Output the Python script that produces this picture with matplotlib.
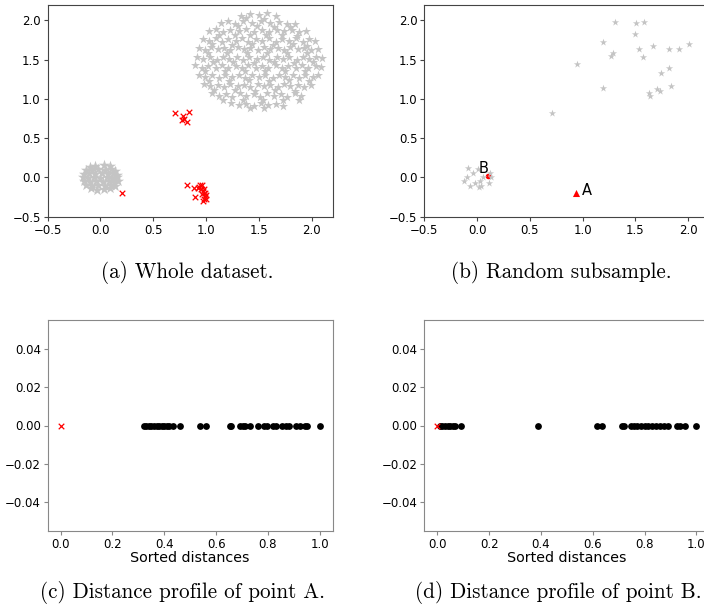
import matplotlib
matplotlib.use("Agg")
from matplotlib import pyplot as plt

# ---- data ----
# big cloud of normal points, panel (a)
big_cloud = [
    (1.33, 2.06), (1.42, 2.08), (1.50, 2.07), (1.58, 2.09), (1.66, 2.05), (1.38, 2.03), (1.55, 2.02),
    (1.14, 1.97), (1.21, 1.99), (1.27, 1.96), (1.35, 1.99), (1.44, 1.97), (1.52, 1.99), (1.61, 1.97),
    (1.69, 1.98), (1.77, 1.95), (1.84, 1.96), (1.30, 1.93), (1.48, 1.93), (1.64, 1.92), (1.80, 1.91),
    (1.03, 1.86), (1.09, 1.89), (1.16, 1.85), (1.23, 1.88), (1.31, 1.86), (1.38, 1.89), (1.45, 1.85),
    (1.53, 1.88), (1.60, 1.85), (1.67, 1.88), (1.74, 1.86), (1.81, 1.88), (1.88, 1.85), (1.95, 1.87),
    (1.12, 1.82), (1.27, 1.82), (1.42, 1.81), (1.57, 1.82), (1.72, 1.81), (1.86, 1.80),
    (0.97, 1.76), (1.03, 1.74), (1.09, 1.77), (1.15, 1.73), (1.21, 1.76), (1.28, 1.74), (1.34, 1.77),
    (1.40, 1.73), (1.47, 1.76), (1.53, 1.74), (1.60, 1.77), (1.66, 1.73), (1.72, 1.76), (1.79, 1.74),
    (1.85, 1.77), (1.92, 1.73), (1.98, 1.76), (2.03, 1.74), (1.06, 1.70), (1.25, 1.69), (1.44, 1.70),
    (1.63, 1.69), (1.82, 1.70), (1.96, 1.68),
    (0.93, 1.65), (0.99, 1.62), (1.05, 1.66), (1.11, 1.63), (1.17, 1.65), (1.23, 1.62), (1.30, 1.66),
    (1.36, 1.63), (1.42, 1.65), (1.49, 1.62), (1.55, 1.66), (1.61, 1.63), (1.68, 1.65), (1.74, 1.62),
    (1.80, 1.66), (1.87, 1.63), (1.93, 1.65), (1.99, 1.62), (2.06, 1.64), (1.02, 1.58), (1.20, 1.58),
    (1.39, 1.59), (1.58, 1.58), (1.77, 1.59), (1.96, 1.58),
    (0.91, 1.54), (0.97, 1.51), (1.04, 1.53), (1.10, 1.50), (1.16, 1.54), (1.22, 1.51), (1.29, 1.53),
    (1.35, 1.50), (1.41, 1.54), (1.48, 1.51), (1.54, 1.53), (1.60, 1.50), (1.67, 1.54), (1.73, 1.51),
    (1.79, 1.53), (1.86, 1.50), (1.92, 1.54), (1.98, 1.51), (2.04, 1.53), (2.10, 1.52), (1.07, 1.47),
    (1.26, 1.47), (1.45, 1.46), (1.64, 1.47), (1.83, 1.46), (2.01, 1.47),
    (0.90, 1.43), (0.96, 1.40), (1.02, 1.42), (1.09, 1.39), (1.15, 1.43), (1.21, 1.40), (1.28, 1.42),
    (1.34, 1.39), (1.40, 1.43), (1.47, 1.40), (1.53, 1.42), (1.59, 1.39), (1.66, 1.43), (1.72, 1.40),
    (1.78, 1.42), (1.85, 1.39), (1.91, 1.43), (1.97, 1.40), (2.04, 1.42), (2.09, 1.41), (0.99, 1.35),
    (1.18, 1.36), (1.37, 1.35), (1.56, 1.36), (1.75, 1.35), (1.94, 1.36),
    (0.93, 1.31), (0.99, 1.28), (1.06, 1.30), (1.12, 1.27), (1.18, 1.31), (1.25, 1.28), (1.31, 1.30),
    (1.37, 1.27), (1.44, 1.31), (1.50, 1.28), (1.56, 1.30), (1.63, 1.27), (1.69, 1.31), (1.75, 1.28),
    (1.82, 1.30), (1.88, 1.27), (1.94, 1.31), (2.01, 1.28), (2.06, 1.30), (1.03, 1.23), (1.22, 1.23),
    (1.41, 1.24), (1.60, 1.23), (1.79, 1.24), (1.98, 1.23),
    (0.98, 1.19), (1.04, 1.16), (1.11, 1.18), (1.17, 1.15), (1.23, 1.19), (1.30, 1.16), (1.36, 1.18),
    (1.42, 1.15), (1.49, 1.19), (1.55, 1.16), (1.61, 1.18), (1.68, 1.15), (1.74, 1.19), (1.80, 1.16),
    (1.87, 1.18), (1.93, 1.15), (1.99, 1.18), (1.08, 1.11), (1.27, 1.11), (1.46, 1.10), (1.65, 1.11),
    (1.84, 1.10),
    (1.06, 1.07), (1.12, 1.04), (1.19, 1.06), (1.25, 1.03), (1.32, 1.07), (1.38, 1.04), (1.45, 1.06),
    (1.51, 1.03), (1.58, 1.07), (1.64, 1.04), (1.71, 1.06), (1.77, 1.03), (1.84, 1.07), (1.90, 1.04),
    (1.16, 0.99), (1.35, 0.99), (1.54, 0.98), (1.73, 0.99), (1.88, 0.98),
    (1.24, 0.95), (1.31, 0.92), (1.38, 0.94), (1.45, 0.91), (1.52, 0.95), (1.59, 0.92), (1.66, 0.94),
    (1.73, 0.91), (1.42, 0.89), (1.55, 0.89),
]

# small dense cluster around the origin, panel (a)
small_cloud = [
    (-0.05, 0.15), (0.03, 0.16), (0.09, 0.14), (-0.10, 0.13),
    (-0.14, 0.09), (-0.08, 0.10), (-0.02, 0.11), (0.04, 0.09), (0.10, 0.11), (0.14, 0.08),
    (-0.16, 0.04), (-0.11, 0.06), (-0.05, 0.05), (0.01, 0.06), (0.07, 0.04), (0.12, 0.06), (0.16, 0.03),
    (-0.17, 0.00), (-0.12, -0.01), (-0.06, 0.01), (0.00, -0.01), (0.06, 0.01), (0.11, -0.01), (0.16, 0.01),
    (-0.16, -0.05), (-0.10, -0.06), (-0.04, -0.04), (0.02, -0.06), (0.08, -0.05), (0.13, -0.06), (0.17, -0.04),
    (-0.14, -0.10), (-0.08, -0.11), (-0.02, -0.09), (0.04, -0.11), (0.10, -0.10), (0.14, -0.11),
    (-0.09, -0.14), (-0.03, -0.16), (0.03, -0.15), (0.09, -0.14),
]

# anomalies (red crosses), panel (a)
outliers = [
    (0.71, 0.82), (0.84, 0.83), (0.78, 0.78), (0.77, 0.73), (0.82, 0.71), (0.79, 0.75),
    (0.20, -0.20),
    (0.82, -0.10), (0.89, -0.13), (0.93, -0.12), (0.94, -0.10), (0.96, -0.09), (0.95, -0.15),
    (0.97, -0.17), (0.99, -0.20), (0.99, -0.24), (0.98, -0.28), (0.97, -0.30), (0.90, -0.25),
    (1.00, -0.22), (0.98, -0.15), (0.92, -0.13), (0.96, -0.21), (1.00, -0.27),
]

# random subsample, panel (b)
sub_big = [
    (1.31, 1.98), (1.51, 1.97), (1.58, 1.98), (1.50, 1.83), (1.19, 1.73), (0.95, 1.45),
    (1.27, 1.55), (1.29, 1.58), (1.53, 1.63), (1.57, 1.53), (1.67, 1.67), (1.82, 1.63),
    (1.91, 1.63), (2.01, 1.70), (1.82, 1.39), (1.74, 1.33), (1.84, 1.17), (1.63, 1.07),
    (1.64, 1.04), (1.70, 1.13), (1.73, 1.10), (1.19, 1.14), (0.71, 0.82),
]
sub_small = [
    (-0.09, 0.12), (-0.04, 0.06), (-0.12, -0.05), (-0.10, 0.00), (-0.07, -0.11),
    (-0.02, -0.07), (0.03, -0.05), (0.04, -0.11), (0.01, 0.11), (0.11, -0.07),
    (0.13, 0.01), (0.12, 0.06), (0.06, 0.01), (0.02, -0.12),
]
point_a = (0.94, -0.20)
point_b = (0.10, 0.02)

# sorted (normalised) distances, panels (c) and (d)
dist_a = [0.32, 0.33, 0.34, 0.35, 0.36, 0.37, 0.38, 0.39, 0.40, 0.41, 0.42, 0.435,
          0.459, 0.537, 0.560, 0.653, 0.659, 0.694, 0.703, 0.713, 0.730, 0.760,
          0.783, 0.797, 0.820, 0.832, 0.855, 0.871, 0.882, 0.909, 0.922, 0.943,
          0.949, 1.0]
dist_b = [0.01, 0.02, 0.03, 0.04, 0.05, 0.06, 0.07, 0.09, 0.39, 0.615, 0.635,
          0.713, 0.721, 0.748, 0.760, 0.772, 0.788, 0.801, 0.815, 0.830, 0.845,
          0.860, 0.875, 0.890, 0.925, 0.937, 0.955, 1.0]

captions = ["(a) Whole dataset.", "(b) Random subsample.",
            "(c) Distance profile of point A.", "(d) Distance profile of point B."]

GRAY = "#c4c4c4"

plt.rcParams["font.size"] = 8.5
fig = plt.figure(figsize=(7.04, 6.05), dpi=100)

W, H = 285 / 704, 212 / 605
ax_a = fig.add_axes([47.7 / 704, (605 - 216.7) / 605, W, H])
ax_b = fig.add_axes([424.3 / 704, (605 - 216.7) / 605, W, H])
ax_c = fig.add_axes([47.7 / 704, (605 - 531) / 605, W, 211 / 605])
ax_d = fig.add_axes([424.3 / 704, (605 - 531) / 605, W, 211 / 605])


def style(ax, spine_col):
    for s in ax.spines.values():
        s.set_color(spine_col)
    ax.tick_params(length=3, width=0.8, pad=2, color=spine_col, labelsize=8.5)


# (a) whole dataset
bx, by = zip(*big_cloud)
sx, sy = zip(*small_cloud)
ox, oy = zip(*outliers)
ax_a.scatter(bx, by, marker="*", s=48, color=GRAY, linewidths=0)
ax_a.scatter(sx, sy, marker="*", s=70, color=GRAY, linewidths=0)
ax_a.scatter(ox, oy, marker="x", s=16, color="red", linewidths=0.9)
ax_a.set_xlim(-0.5, 2.2)
ax_a.set_ylim(-0.5, 2.2)
ax_a.set_xticks([-0.5, 0.0, 0.5, 1.0, 1.5, 2.0])
ax_a.set_yticks([-0.5, 0.0, 0.5, 1.0, 1.5, 2.0])
style(ax_a, "#444444")

# (b) random subsample
ax_b.scatter(*point_b, marker="o", s=16, color="red", linewidths=0)
ux, uy = zip(*sub_big)
vx, vy = zip(*sub_small)
ax_b.scatter(ux, uy, marker="*", s=30, color=GRAY, linewidths=0)
ax_b.scatter(vx, vy, marker="*", s=30, color=GRAY, linewidths=0)
ax_b.scatter(*point_a, marker="^", s=26, color="red", linewidths=0)
ax_b.text(1.04, -0.16, "A", fontsize=10.5, ha="center", va="center")
ax_b.text(0.06, 0.115, "B", fontsize=10.5, ha="center", va="center")
ax_b.set_xlim(-0.5, 2.2)
ax_b.set_ylim(-0.5, 2.2)
ax_b.set_xticks([-0.5, 0.0, 0.5, 1.0, 1.5, 2.0])
ax_b.set_yticks([-0.5, 0.0, 0.5, 1.0, 1.5, 2.0])
style(ax_b, "#444444")

# (c), (d) distance profiles
for ax, d in [(ax_c, dist_a), (ax_d, dist_b)]:
    ax.scatter(d, [0] * len(d), marker="o", s=24, color="black", linewidths=0)
    ax.scatter([0], [0], marker="x", s=16, color="red", linewidths=0.9, zorder=3)
    ax.set_xlim(-0.05, 1.05)
    ax.set_ylim(-0.055, 0.055)
    ax.set_xticks([0.0, 0.2, 0.4, 0.6, 0.8, 1.0])
    ax.set_yticks([-0.04, -0.02, 0.0, 0.02, 0.04])
    ax.set_xlabel("Sorted distances", fontsize=10.3, labelpad=0)
    style(ax, "#888888")

# captions under each panel
cap_pos = [(187 / 704, 1 - 273 / 605), (561 / 704, 1 - 273 / 605),
           (183 / 704, 1 - 592 / 605), (558 / 704, 1 - 592 / 605)]
for (x, y), txt in zip(cap_pos, captions):
    fig.text(x, y, txt, family="cmr10", fontsize=15.2, ha="center", va="center")

fig.savefig("out.png", dpi=100)
